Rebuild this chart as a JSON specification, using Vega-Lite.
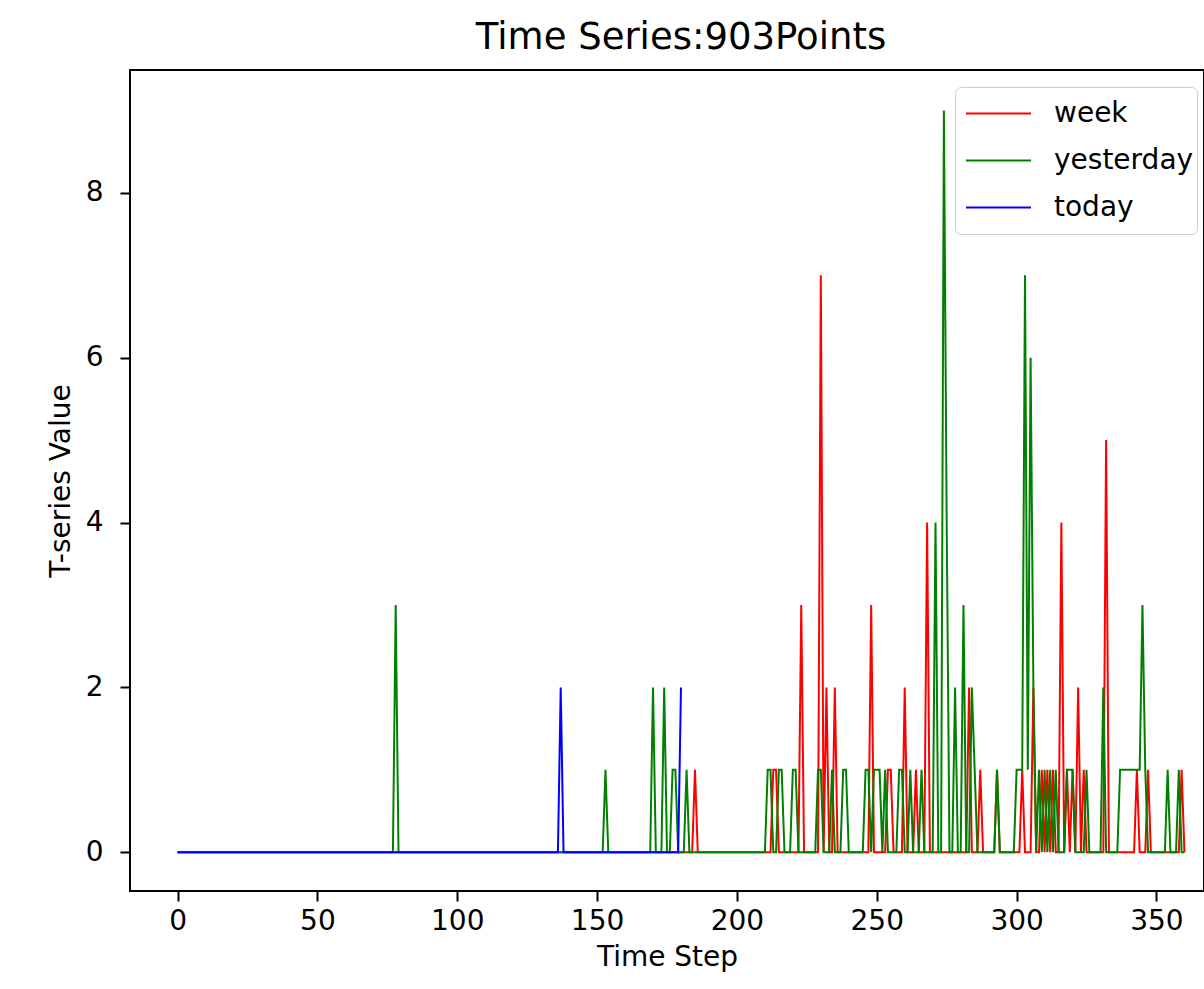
{
"$schema": "https://vega.github.io/schema/vega-lite/v6.json",
"width": 1074, "height": 821,
"autosize": {"type": "none"},
"padding": {"left": 130, "top": 70, "right": 0, "bottom": 98},
"background": "white",
"config": {
 "view": {"stroke": "black", "strokeWidth": 2},
 "font": "DejaVu Sans",
 "axis": {"labelFont": "DejaVu Sans", "titleFont": "DejaVu Sans", "labelFontSize": 28, "titleFontSize": 28, "titleFontWeight": "normal", "labelColor": "black", "titleColor": "black", "tickColor": "black", "tickSize": 10, "tickWidth": 2, "domain": false, "grid": false}
},
"title": {"text": "Time Series:903Points", "fontSize": 37, "font": "DejaVu Sans", "fontWeight": "normal", "color": "black", "anchor": "middle", "offset": 13, "dx": 14},
"data": {"values": [
{"t":0,"week":0,"yesterday":0,"today":0},{"t":1,"week":0,"yesterday":0,"today":0},{"t":2,"week":0,"yesterday":0,"today":0},{"t":3,"week":0,"yesterday":0,"today":0},{"t":4,"week":0,"yesterday":0,"today":0},{"t":5,"week":0,"yesterday":0,"today":0},{"t":6,"week":0,"yesterday":0,"today":0},{"t":7,"week":0,"yesterday":0,"today":0},{"t":8,"week":0,"yesterday":0,"today":0},{"t":9,"week":0,"yesterday":0,"today":0},
{"t":10,"week":0,"yesterday":0,"today":0},{"t":11,"week":0,"yesterday":0,"today":0},{"t":12,"week":0,"yesterday":0,"today":0},{"t":13,"week":0,"yesterday":0,"today":0},{"t":14,"week":0,"yesterday":0,"today":0},{"t":15,"week":0,"yesterday":0,"today":0},{"t":16,"week":0,"yesterday":0,"today":0},{"t":17,"week":0,"yesterday":0,"today":0},{"t":18,"week":0,"yesterday":0,"today":0},{"t":19,"week":0,"yesterday":0,"today":0},
{"t":20,"week":0,"yesterday":0,"today":0},{"t":21,"week":0,"yesterday":0,"today":0},{"t":22,"week":0,"yesterday":0,"today":0},{"t":23,"week":0,"yesterday":0,"today":0},{"t":24,"week":0,"yesterday":0,"today":0},{"t":25,"week":0,"yesterday":0,"today":0},{"t":26,"week":0,"yesterday":0,"today":0},{"t":27,"week":0,"yesterday":0,"today":0},{"t":28,"week":0,"yesterday":0,"today":0},{"t":29,"week":0,"yesterday":0,"today":0},
{"t":30,"week":0,"yesterday":0,"today":0},{"t":31,"week":0,"yesterday":0,"today":0},{"t":32,"week":0,"yesterday":0,"today":0},{"t":33,"week":0,"yesterday":0,"today":0},{"t":34,"week":0,"yesterday":0,"today":0},{"t":35,"week":0,"yesterday":0,"today":0},{"t":36,"week":0,"yesterday":0,"today":0},{"t":37,"week":0,"yesterday":0,"today":0},{"t":38,"week":0,"yesterday":0,"today":0},{"t":39,"week":0,"yesterday":0,"today":0},
{"t":40,"week":0,"yesterday":0,"today":0},{"t":41,"week":0,"yesterday":0,"today":0},{"t":42,"week":0,"yesterday":0,"today":0},{"t":43,"week":0,"yesterday":0,"today":0},{"t":44,"week":0,"yesterday":0,"today":0},{"t":45,"week":0,"yesterday":0,"today":0},{"t":46,"week":0,"yesterday":0,"today":0},{"t":47,"week":0,"yesterday":0,"today":0},{"t":48,"week":0,"yesterday":0,"today":0},{"t":49,"week":0,"yesterday":0,"today":0},
{"t":50,"week":0,"yesterday":0,"today":0},{"t":51,"week":0,"yesterday":0,"today":0},{"t":52,"week":0,"yesterday":0,"today":0},{"t":53,"week":0,"yesterday":0,"today":0},{"t":54,"week":0,"yesterday":0,"today":0},{"t":55,"week":0,"yesterday":0,"today":0},{"t":56,"week":0,"yesterday":0,"today":0},{"t":57,"week":0,"yesterday":0,"today":0},{"t":58,"week":0,"yesterday":0,"today":0},{"t":59,"week":0,"yesterday":0,"today":0},
{"t":60,"week":0,"yesterday":0,"today":0},{"t":61,"week":0,"yesterday":0,"today":0},{"t":62,"week":0,"yesterday":0,"today":0},{"t":63,"week":0,"yesterday":0,"today":0},{"t":64,"week":0,"yesterday":0,"today":0},{"t":65,"week":0,"yesterday":0,"today":0},{"t":66,"week":0,"yesterday":0,"today":0},{"t":67,"week":0,"yesterday":0,"today":0},{"t":68,"week":0,"yesterday":0,"today":0},{"t":69,"week":0,"yesterday":0,"today":0},
{"t":70,"week":0,"yesterday":0,"today":0},{"t":71,"week":0,"yesterday":0,"today":0},{"t":72,"week":0,"yesterday":0,"today":0},{"t":73,"week":0,"yesterday":0,"today":0},{"t":74,"week":0,"yesterday":0,"today":0},{"t":75,"week":0,"yesterday":0,"today":0},{"t":76,"week":0,"yesterday":0,"today":0},{"t":77,"week":0,"yesterday":0,"today":0},{"t":78,"week":0,"yesterday":3,"today":0},{"t":79,"week":0,"yesterday":0,"today":0},
{"t":80,"week":0,"yesterday":0,"today":0},{"t":81,"week":0,"yesterday":0,"today":0},{"t":82,"week":0,"yesterday":0,"today":0},{"t":83,"week":0,"yesterday":0,"today":0},{"t":84,"week":0,"yesterday":0,"today":0},{"t":85,"week":0,"yesterday":0,"today":0},{"t":86,"week":0,"yesterday":0,"today":0},{"t":87,"week":0,"yesterday":0,"today":0},{"t":88,"week":0,"yesterday":0,"today":0},{"t":89,"week":0,"yesterday":0,"today":0},
{"t":90,"week":0,"yesterday":0,"today":0},{"t":91,"week":0,"yesterday":0,"today":0},{"t":92,"week":0,"yesterday":0,"today":0},{"t":93,"week":0,"yesterday":0,"today":0},{"t":94,"week":0,"yesterday":0,"today":0},{"t":95,"week":0,"yesterday":0,"today":0},{"t":96,"week":0,"yesterday":0,"today":0},{"t":97,"week":0,"yesterday":0,"today":0},{"t":98,"week":0,"yesterday":0,"today":0},{"t":99,"week":0,"yesterday":0,"today":0},
{"t":100,"week":0,"yesterday":0,"today":0},{"t":101,"week":0,"yesterday":0,"today":0},{"t":102,"week":0,"yesterday":0,"today":0},{"t":103,"week":0,"yesterday":0,"today":0},{"t":104,"week":0,"yesterday":0,"today":0},{"t":105,"week":0,"yesterday":0,"today":0},{"t":106,"week":0,"yesterday":0,"today":0},{"t":107,"week":0,"yesterday":0,"today":0},{"t":108,"week":0,"yesterday":0,"today":0},{"t":109,"week":0,"yesterday":0,"today":0},
{"t":110,"week":0,"yesterday":0,"today":0},{"t":111,"week":0,"yesterday":0,"today":0},{"t":112,"week":0,"yesterday":0,"today":0},{"t":113,"week":0,"yesterday":0,"today":0},{"t":114,"week":0,"yesterday":0,"today":0},{"t":115,"week":0,"yesterday":0,"today":0},{"t":116,"week":0,"yesterday":0,"today":0},{"t":117,"week":0,"yesterday":0,"today":0},{"t":118,"week":0,"yesterday":0,"today":0},{"t":119,"week":0,"yesterday":0,"today":0},
{"t":120,"week":0,"yesterday":0,"today":0},{"t":121,"week":0,"yesterday":0,"today":0},{"t":122,"week":0,"yesterday":0,"today":0},{"t":123,"week":0,"yesterday":0,"today":0},{"t":124,"week":0,"yesterday":0,"today":0},{"t":125,"week":0,"yesterday":0,"today":0},{"t":126,"week":0,"yesterday":0,"today":0},{"t":127,"week":0,"yesterday":0,"today":0},{"t":128,"week":0,"yesterday":0,"today":0},{"t":129,"week":0,"yesterday":0,"today":0},
{"t":130,"week":0,"yesterday":0,"today":0},{"t":131,"week":0,"yesterday":0,"today":0},{"t":132,"week":0,"yesterday":0,"today":0},{"t":133,"week":0,"yesterday":0,"today":0},{"t":134,"week":0,"yesterday":0,"today":0},{"t":135,"week":0,"yesterday":0,"today":0},{"t":136,"week":0,"yesterday":0,"today":0},{"t":137,"week":0,"yesterday":0,"today":2},{"t":138,"week":0,"yesterday":0,"today":0},{"t":139,"week":0,"yesterday":0,"today":0},
{"t":140,"week":0,"yesterday":0,"today":0},{"t":141,"week":0,"yesterday":0,"today":0},{"t":142,"week":0,"yesterday":0,"today":0},{"t":143,"week":0,"yesterday":0,"today":0},{"t":144,"week":0,"yesterday":0,"today":0},{"t":145,"week":0,"yesterday":0,"today":0},{"t":146,"week":0,"yesterday":0,"today":0},{"t":147,"week":0,"yesterday":0,"today":0},{"t":148,"week":0,"yesterday":0,"today":0},{"t":149,"week":0,"yesterday":0,"today":0},
{"t":150,"week":0,"yesterday":0,"today":0},{"t":151,"week":0,"yesterday":0,"today":0},{"t":152,"week":0,"yesterday":0,"today":0},{"t":153,"week":0,"yesterday":1,"today":0},{"t":154,"week":0,"yesterday":0,"today":0},{"t":155,"week":0,"yesterday":0,"today":0},{"t":156,"week":0,"yesterday":0,"today":0},{"t":157,"week":0,"yesterday":0,"today":0},{"t":158,"week":0,"yesterday":0,"today":0},{"t":159,"week":0,"yesterday":0,"today":0},
{"t":160,"week":0,"yesterday":0,"today":0},{"t":161,"week":0,"yesterday":0,"today":0},{"t":162,"week":0,"yesterday":0,"today":0},{"t":163,"week":0,"yesterday":0,"today":0},{"t":164,"week":0,"yesterday":0,"today":0},{"t":165,"week":0,"yesterday":0,"today":0},{"t":166,"week":0,"yesterday":0,"today":0},{"t":167,"week":0,"yesterday":0,"today":0},{"t":168,"week":0,"yesterday":0,"today":0},{"t":169,"week":0,"yesterday":0,"today":0},
{"t":170,"week":0,"yesterday":2,"today":0},{"t":171,"week":0,"yesterday":0,"today":0},{"t":172,"week":0,"yesterday":0,"today":0},{"t":173,"week":0,"yesterday":0,"today":0},{"t":174,"week":0,"yesterday":2,"today":0},{"t":175,"week":0,"yesterday":0,"today":0},{"t":176,"week":0,"yesterday":0,"today":0},{"t":177,"week":0,"yesterday":1,"today":0},{"t":178,"week":0,"yesterday":1,"today":0},{"t":179,"week":0,"yesterday":0,"today":0},
{"t":180,"week":0,"yesterday":0,"today":2},{"t":181,"week":0,"yesterday":0},{"t":182,"week":0,"yesterday":1},{"t":183,"week":0,"yesterday":0},{"t":184,"week":0,"yesterday":0},{"t":185,"week":1,"yesterday":0},{"t":186,"week":0,"yesterday":0},{"t":187,"week":0,"yesterday":0},{"t":188,"week":0,"yesterday":0},{"t":189,"week":0,"yesterday":0},
{"t":190,"week":0,"yesterday":0},{"t":191,"week":0,"yesterday":0},{"t":192,"week":0,"yesterday":0},{"t":193,"week":0,"yesterday":0},{"t":194,"week":0,"yesterday":0},{"t":195,"week":0,"yesterday":0},{"t":196,"week":0,"yesterday":0},{"t":197,"week":0,"yesterday":0},{"t":198,"week":0,"yesterday":0},{"t":199,"week":0,"yesterday":0},
{"t":200,"week":0,"yesterday":0},{"t":201,"week":0,"yesterday":0},{"t":202,"week":0,"yesterday":0},{"t":203,"week":0,"yesterday":0},{"t":204,"week":0,"yesterday":0},{"t":205,"week":0,"yesterday":0},{"t":206,"week":0,"yesterday":0},{"t":207,"week":0,"yesterday":0},{"t":208,"week":0,"yesterday":0},{"t":209,"week":0,"yesterday":0},
{"t":210,"week":0,"yesterday":0},{"t":211,"week":0,"yesterday":1},{"t":212,"week":0,"yesterday":1},{"t":213,"week":1,"yesterday":0},{"t":214,"week":1,"yesterday":0},{"t":215,"week":0,"yesterday":1},{"t":216,"week":0,"yesterday":1},{"t":217,"week":0,"yesterday":0},{"t":218,"week":0,"yesterday":0},{"t":219,"week":0,"yesterday":0},
{"t":220,"week":0,"yesterday":1},{"t":221,"week":0,"yesterday":1},{"t":222,"week":0,"yesterday":0},{"t":223,"week":3,"yesterday":0},{"t":224,"week":0,"yesterday":0},{"t":225,"week":0,"yesterday":0},{"t":226,"week":0,"yesterday":0},{"t":227,"week":0,"yesterday":0},{"t":228,"week":0,"yesterday":0},{"t":229,"week":0,"yesterday":1},
{"t":230,"week":7,"yesterday":1},{"t":231,"week":0,"yesterday":0},{"t":232,"week":2,"yesterday":0},{"t":233,"week":0,"yesterday":0},{"t":234,"week":0,"yesterday":1},{"t":235,"week":2,"yesterday":0},{"t":236,"week":0,"yesterday":0},{"t":237,"week":0,"yesterday":0},{"t":238,"week":0,"yesterday":1},{"t":239,"week":0,"yesterday":1},
{"t":240,"week":0,"yesterday":0},{"t":241,"week":0,"yesterday":0},{"t":242,"week":0,"yesterday":0},{"t":243,"week":0,"yesterday":0},{"t":244,"week":0,"yesterday":0},{"t":245,"week":0,"yesterday":0},{"t":246,"week":0,"yesterday":1},{"t":247,"week":0,"yesterday":1},{"t":248,"week":3,"yesterday":0},{"t":249,"week":0,"yesterday":1},
{"t":250,"week":0,"yesterday":1},{"t":251,"week":0,"yesterday":1},{"t":252,"week":0,"yesterday":0},{"t":253,"week":0,"yesterday":1},{"t":254,"week":1,"yesterday":0},{"t":255,"week":1,"yesterday":0},{"t":256,"week":0,"yesterday":0},{"t":257,"week":0,"yesterday":0},{"t":258,"week":0,"yesterday":1},{"t":259,"week":0,"yesterday":1},
{"t":260,"week":2,"yesterday":0},{"t":261,"week":0,"yesterday":0},{"t":262,"week":0,"yesterday":1},{"t":263,"week":0,"yesterday":0},{"t":264,"week":1,"yesterday":0},{"t":265,"week":0,"yesterday":0},{"t":266,"week":0,"yesterday":1},{"t":267,"week":0,"yesterday":0},{"t":268,"week":4,"yesterday":0},{"t":269,"week":0,"yesterday":0},
{"t":270,"week":0,"yesterday":0},{"t":271,"week":0,"yesterday":4},{"t":272,"week":0,"yesterday":0},{"t":273,"week":0,"yesterday":0},{"t":274,"week":0,"yesterday":9},{"t":275,"week":0,"yesterday":4},{"t":276,"week":0,"yesterday":0},{"t":277,"week":0,"yesterday":0},{"t":278,"week":0,"yesterday":2},{"t":279,"week":0,"yesterday":0},
{"t":280,"week":0,"yesterday":0},{"t":281,"week":0,"yesterday":3},{"t":282,"week":0,"yesterday":0},{"t":283,"week":2,"yesterday":0},{"t":284,"week":0,"yesterday":2},{"t":285,"week":0,"yesterday":1},{"t":286,"week":0,"yesterday":0},{"t":287,"week":1,"yesterday":0},{"t":288,"week":0,"yesterday":0},{"t":289,"week":0,"yesterday":0},
{"t":290,"week":0,"yesterday":0},{"t":291,"week":0,"yesterday":0},{"t":292,"week":0,"yesterday":0},{"t":293,"week":1,"yesterday":1},{"t":294,"week":0,"yesterday":0},{"t":295,"week":0,"yesterday":0},{"t":296,"week":0,"yesterday":0},{"t":297,"week":0,"yesterday":0},{"t":298,"week":0,"yesterday":0},{"t":299,"week":0,"yesterday":0},
{"t":300,"week":0,"yesterday":1},{"t":301,"week":0,"yesterday":1},{"t":302,"week":1,"yesterday":1},{"t":303,"week":0,"yesterday":7},{"t":304,"week":0,"yesterday":1},{"t":305,"week":0,"yesterday":6},{"t":306,"week":2,"yesterday":2},{"t":307,"week":0,"yesterday":0},{"t":308,"week":0,"yesterday":1},{"t":309,"week":1,"yesterday":0},
{"t":310,"week":0,"yesterday":1},{"t":311,"week":1,"yesterday":0},{"t":312,"week":0,"yesterday":1},{"t":313,"week":1,"yesterday":0},{"t":314,"week":0,"yesterday":1},{"t":315,"week":0,"yesterday":0},{"t":316,"week":4,"yesterday":0},{"t":317,"week":0,"yesterday":0},{"t":318,"week":1,"yesterday":1},{"t":319,"week":0,"yesterday":1},
{"t":320,"week":1,"yesterday":1},{"t":321,"week":0,"yesterday":0},{"t":322,"week":2,"yesterday":0},{"t":323,"week":0,"yesterday":0},{"t":324,"week":1,"yesterday":0},{"t":325,"week":0,"yesterday":1},{"t":326,"week":0,"yesterday":0},{"t":327,"week":0,"yesterday":0},{"t":328,"week":0,"yesterday":0},{"t":329,"week":0,"yesterday":0},
{"t":330,"week":0,"yesterday":0},{"t":331,"week":0,"yesterday":2},{"t":332,"week":5,"yesterday":0},{"t":333,"week":0,"yesterday":0},{"t":334,"week":0,"yesterday":0},{"t":335,"week":0,"yesterday":0},{"t":336,"week":0,"yesterday":0},{"t":337,"week":0,"yesterday":1},{"t":338,"week":0,"yesterday":1},{"t":339,"week":0,"yesterday":1},
{"t":340,"week":0,"yesterday":1},{"t":341,"week":0,"yesterday":1},{"t":342,"week":0,"yesterday":1},{"t":343,"week":1,"yesterday":1},{"t":344,"week":0,"yesterday":1},{"t":345,"week":0,"yesterday":3},{"t":346,"week":0,"yesterday":1},{"t":347,"week":1,"yesterday":0},{"t":348,"week":0,"yesterday":0},{"t":349,"week":0,"yesterday":0},
{"t":350,"week":0,"yesterday":0},{"t":351,"week":0,"yesterday":0},{"t":352,"week":0,"yesterday":0},{"t":353,"week":0,"yesterday":0},{"t":354,"week":0,"yesterday":1},{"t":355,"week":0,"yesterday":0},{"t":356,"week":0,"yesterday":0},{"t":357,"week":0,"yesterday":0},{"t":358,"week":0,"yesterday":1},{"t":359,"week":1,"yesterday":0},
{"t":360,"week":0,"yesterday":0}
]},
"transform": [
 {"fold": ["week", "yesterday", "today"], "as": ["series", "value"]},
 {"filter": "isValid(datum.value)"}
],
"encoding": {
 "x": {"field": "t", "type": "quantitative", "scale": {"domain": [-17, 367], "nice": false, "zero": false}, "axis": {"values": [0, 50, 100, 150, 200, 250, 300, 350], "title": "Time Step", "labelPadding": 6, "titlePadding": 8}},
 "y": {"field": "value", "type": "quantitative", "scale": {"domain": [-0.47, 9.49], "nice": false, "zero": false}, "axis": {"values": [0, 2, 4, 6, 8], "title": "T-series Value", "labelPadding": 17, "titlePadding": 10}},
 "color": {"field": "series", "type": "nominal", "scale": {"domain": ["week", "yesterday", "today"], "range": ["#ff0000", "#008000", "#0000ff"]},
  "legend": {"title": null, "orient": "none", "legendX": 825, "legendY": 17, "symbolType": "stroke", "symbolSize": 4225, "symbolStrokeWidth": 2, "symbolOffset": 7, "labelFontSize": 28, "labelFont": "DejaVu Sans", "labelColor": "black", "labelOffset": 22, "strokeColor": "#cccccc", "cornerRadius": 6, "padding": 3, "fillColor": "white", "rowPadding": 0, "clipHeight": 47}}
},
"layer": [
 {"transform": [{"filter": "datum.series === 'week'"}], "mark": {"type": "line", "strokeWidth": 2, "clip": true}},
 {"transform": [{"filter": "datum.series === 'yesterday'"}], "mark": {"type": "line", "strokeWidth": 2, "clip": true}},
 {"transform": [{"filter": "datum.series === 'today'"}], "mark": {"type": "line", "strokeWidth": 2, "clip": true}}
]
}
